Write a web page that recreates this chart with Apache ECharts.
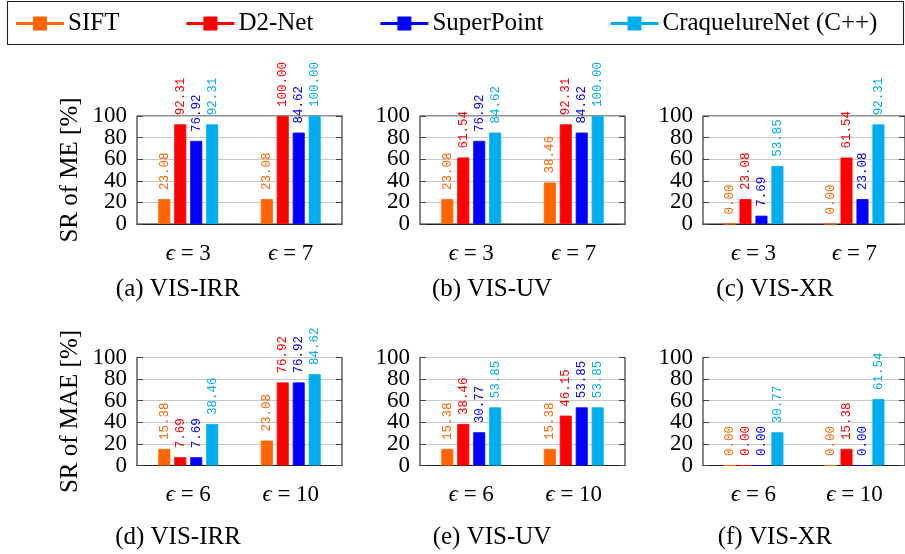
<!DOCTYPE html>
<html>
<head>
<meta charset="utf-8">
<script src="https://cdn.jsdelivr.net/npm/echarts@6/dist/echarts.min.js"></script>
<style>html,body{margin:0;padding:0;background:#fff}#c{width:905px;height:554px}</style>
</head>
<body>
<div id="c"></div>
<script>
// ---- data ----
const methods = ['SIFT', 'D2-Net', 'SuperPoint', 'CraquelureNet (C++)'];
const catsME = ['ϵ = 3', 'ϵ = 7'];
const catsMAE = ['ϵ = 6', 'ϵ = 10'];
const yTicks = [0, 20, 40, 60, 80, 100];
// each row: one method, values for the two epsilon categories
const meIRR  = [[23.08, 23.08], [92.31, 100.00], [76.92, 84.62], [92.31, 100.00]];
const meUV   = [[23.08, 38.46], [61.54, 92.31], [76.92, 84.62], [84.62, 100.00]];
const meXR   = [[0.00, 0.00], [23.08, 61.54], [7.69, 23.08], [53.85, 92.31]];
const maeIRR = [[15.38, 23.08], [7.69, 76.92], [7.69, 76.92], [38.46, 84.62]];
const maeUV  = [[15.38, 15.38], [38.46, 46.15], [30.77, 53.85], [53.85, 53.85]];
const maeXR  = [[0.00, 0.00], [0.00, 15.38], [0.00, 0.00], [30.77, 61.54]];
const captions = ['(a) VIS-IRR', '(b) VIS-UV', '(c) VIS-XR', '(d) VIS-IRR', '(e) VIS-UV', '(f) VIS-XR'];
const yNames = ['SR of ME [%]', 'SR of MAE [%]'];

// ---- styles ----
const colors = ['#FF6600', '#FF0000', '#0000FF', '#00AEEF'];
const serif = '"Liberation Serif", "DejaVu Serif", serif';
const mono = '"Liberation Mono", "DejaVu Sans Mono", monospace';

const panels = [
  {data: meIRR, cats: catsME}, {data: meUV, cats: catsME}, {data: meXR, cats: catsME},
  {data: maeIRR, cats: catsMAE}, {data: maeUV, cats: catsMAE}, {data: maeXR, cats: catsMAE}
];
const colLeft = [137, 420, 703];
const rowTop = [116, 357.5];
const plotW = 205, plotH = 108;
const capX = [178, 492, 775];
const capTop = [277, 525];

const labelStyle = {color: '#000', fontFamily: serif, fontSize: 23, margin: 10, interval: 0};
const grid = [], xAxis = [], yAxis = [], series = [], title = [];
panels.forEach((p, i) => {
  const r = Math.floor(i / 3), c = i % 3;
  grid.push({left: colLeft[c], top: rowTop[r], width: plotW, height: plotH,
    show: true, borderColor: '#222', borderWidth: 1.1, containLabel: false});
  xAxis.push({type: 'category', gridIndex: i, data: p.cats,
    axisLine: {lineStyle: {color: '#222', width: 1.1}}, axisTick: {show: false},
    axisLabel: {color: '#000', fontFamily: serif, fontSize: 23, margin: 18, interval: 0,
      hideOverlap: false,
      formatter: v => v.replace('ϵ', '{e|ϵ}'),
      rich: {e: {color: '#000', fontFamily: serif, fontSize: 23, fontStyle: 'italic'}}}});
  const yl = yAxis.length;
  // main left axis: ticks, grid lines, labels 0/40/80
  yAxis.push({type: 'value', gridIndex: i, min: 0, max: 100, interval: 20,
    name: c === 0 ? yNames[r] : '', nameLocation: 'middle', nameGap: 54, nameRotate: 90,
    nameTextStyle: {color: '#000', fontFamily: serif, fontSize: 25},
    axisLine: {show: false},
    axisTick: {show: true, inside: true, length: 6, lineStyle: {color: '#444'}},
    splitLine: {show: true, lineStyle: {color: '#c8c8c8', width: 1}},
    axisLabel: Object.assign({}, labelStyle,
      {formatter: v => (yTicks.indexOf(v) % 2 === 0) ? String(v) : ''})});
  // second left axis: labels 20/60/100 only (avoids overlap-hiding of neighbours)
  yAxis.push({type: 'value', gridIndex: i, min: 0, max: 100, interval: 20, position: 'left',
    axisLine: {show: false}, axisTick: {show: false}, splitLine: {show: false},
    axisLabel: Object.assign({}, labelStyle,
      {formatter: v => (yTicks.indexOf(v) % 2 === 1) ? String(v) : ''})});
  // right axis: inside ticks only
  yAxis.push({type: 'value', gridIndex: i, min: 0, max: 100, interval: 20, position: 'right',
    axisLine: {show: false}, axisLabel: {show: false}, splitLine: {show: false},
    axisTick: {show: true, inside: true, length: 6, lineStyle: {color: '#444'}}});
  p.data.forEach((vals, k) => {
    series.push({type: 'bar', name: methods[k], xAxisIndex: i, yAxisIndex: yl,
      data: vals, barWidth: 12, barGap: '33%',
      itemStyle: {color: colors[k], borderColor: colors[k], borderWidth: 0.8},
      label: {show: true, position: 'top', rotate: 90, align: 'left', verticalAlign: 'middle',
        distance: 9, color: colors[k], fontFamily: mono, fontSize: 12.5,
        formatter: d => d.value.toFixed(2)},
      emphasis: {disabled: true}, animation: false});
  });
  title.push({text: captions[i], left: capX[c], top: capTop[r], textAlign: 'center',
    textStyle: {color: '#000', fontFamily: serif, fontSize: 25, fontWeight: 'normal'}, padding: 0});
});

const chart = echarts.init(document.getElementById('c'), null, {renderer: 'canvas'});
chart.setOption({
  animation: false,
  title: title,
  grid: grid, xAxis: xAxis, yAxis: yAxis, series: series,
  legend: {data: methods, left: 16, top: 11, padding: 0, itemGap: 67,
    itemWidth: 46, itemHeight: 12,
    icon: 'path://M0,5.5 H46 V6.5 H0 Z M17,0 H29 V12 H17 Z',
    textStyle: {color: '#000', fontFamily: serif, fontSize: 25, lineHeight: 25}},
  graphic: [{type: 'rect', shape: {x: 7.5, y: 1.5, width: 896, height: 43},
    style: {fill: 'none', stroke: '#222', lineWidth: 1.1}, silent: true}]
});
</script>
</body>
</html>
